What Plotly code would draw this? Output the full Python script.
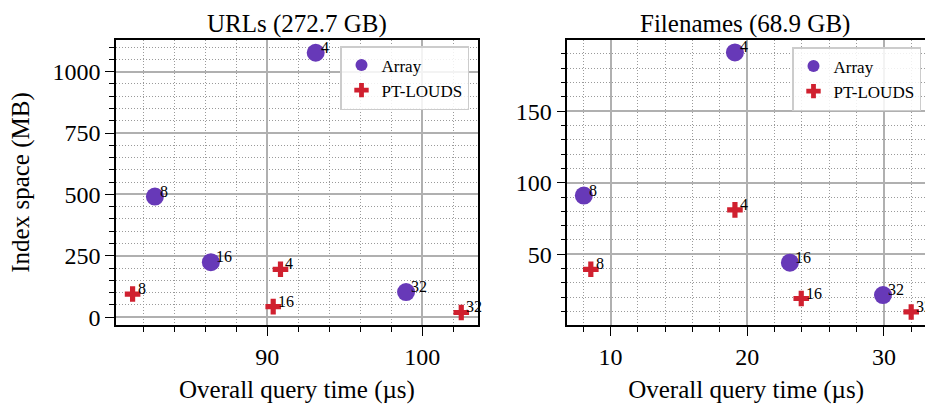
import plotly.graph_objects as go

# ---- data ----
url_array_x = [93.13, 82.76, 86.37, 98.96]
url_array_y = [1077, 491, 224, 102]
url_array_lbl = ["4", "8", "16", "32"]

url_pt_x = [90.86, 81.32, 90.39, 102.52]
url_pt_y = [195, 94, 43, 19]
url_pt_lbl = ["4", "8", "16", "32"]

fn_array_x = [19.1, 8.05, 23.12, 29.93]
fn_array_y = [191, 91, 44.1, 21.5]
fn_array_lbl = ["4", "8", "16", "32"]

fn_pt_x = [19.1, 8.56, 23.95, 31.99]
fn_pt_y = [81, 39.5, 19.1, 9.7]
fn_pt_lbl = ["4", "8", "16", "32"]

titles = ["URLs (272.7 GB)", "Filenames (68.9 GB)"]
series_names = ["Array", "PT-LOUDS"]

PURPLE = "#6739b8"
RED = "#d0202f"
FONT = "Liberation Serif"

fig = go.Figure()

def add_series(xs, ys, name, xa, ya, legend, color, symbol, size):
    fig.add_trace(go.Scatter(
        x=xs, y=ys, mode="markers", name=name, xaxis=xa, yaxis=ya, legend=legend,
        marker=dict(color=color, symbol=symbol, size=size, line=dict(width=0)),
    ))

add_series(url_array_x, url_array_y, series_names[0], "x", "y", "legend", PURPLE, "circle", 18)
add_series(url_pt_x, url_pt_y, series_names[1], "x", "y", "legend", RED, "cross", 13)
add_series(fn_array_x, fn_array_y, series_names[0], "x2", "y2", "legend2", PURPLE, "circle", 18)
add_series(fn_pt_x, fn_pt_y, series_names[1], "x2", "y2", "legend2", RED, "cross", 13)

annotations = []
def add_labels(xs, ys, lbls, xref, yref):
    for x, y, t in zip(xs, ys, lbls):
        annotations.append(dict(
            x=x, y=y, xref=xref, yref=yref, text=t, showarrow=False,
            xanchor="left", yanchor="bottom", xshift=3, yshift=-5,
            font=dict(family=FONT, size=16, color="black"),
        ))

add_labels(url_array_x, url_array_y, url_array_lbl, "x", "y")
add_labels(url_pt_x, url_pt_y, url_pt_lbl, "x", "y")
add_labels(fn_array_x, fn_array_y, fn_array_lbl, "x2", "y2")
add_labels(fn_pt_x, fn_pt_y, fn_pt_lbl, "x2", "y2")

# subplot titles
annotations.append(dict(x=0.5, y=1.0, xref="x domain", yref="paper", yshift=0,
                        text=titles[0], showarrow=False, yanchor="bottom",
                        font=dict(family=FONT, size=25, color="black")))
annotations.append(dict(x=(745 - 567.3) / (925 - 567.3), y=1.0, xref="x2 domain", yref="paper", yshift=0,
                        text=titles[1], showarrow=False, yanchor="bottom",
                        font=dict(family=FONT, size=25, color="black")))

fig.update_layout(annotations=annotations)

def axis_style(rng, dtick, mdtick, title=None, domain=None, mirror=True, anchor=None, standoff=8):
    d = dict(
        range=rng, dtick=dtick, tick0=0,
        showline=True, linecolor="black", linewidth=1.5, mirror=mirror,
        ticks="outside", ticklen=9, tickwidth=1.3, tickcolor="black",
        showgrid=True, gridcolor="#b0b0b0", gridwidth=1.5,
        zeroline=False,
        tickfont=dict(family=FONT, size=24, color="black"),
        minor=dict(dtick=mdtick, tick0=0, ticks="outside", ticklen=5, tickwidth=1,
                   tickcolor="black", showgrid=True, gridcolor="#9a9a9a",
                   griddash="1px,2px", gridwidth=1),
    )
    if title:
        d["title"] = dict(text=title, font=dict(family=FONT, size=25, color="black"), standoff=standoff)
    if domain:
        d["domain"] = domain
    if anchor:
        d["anchor"] = anchor
    return d

W, H = 925, 407
fig.update_layout(
    width=W, height=H,
    margin=dict(l=0, r=0, t=40, b=82),
    paper_bgcolor="white", plot_bgcolor="white",
    font=dict(family=FONT, color="black"),
    xaxis=axis_style([80.25, 103.6], 10, 2, "Overall query time (µs)",
                     domain=[116 / W, 478 / W], anchor="y", standoff=12),
    yaxis=axis_style([-32, 1129], 250, 50, "Index space (MB)", anchor="x", standoff=16),
    xaxis2=axis_style([6.84, 33.0], 10, 2, "Overall query time (µs)",
                      domain=[567.3 / W, 1.0], anchor="y2", standoff=12),
    yaxis2=axis_style([0.6, 199.7], 50, 10, None, anchor="x2", mirror=False),
    legend=dict(x=469 / W, xanchor="right", y=1 - (46 - 40) / 285, yanchor="top",
                bgcolor="rgba(255,255,255,0.85)", bordercolor="#cccccc", borderwidth=1.5,
                font=dict(family=FONT, size=17, color="black"), itemsizing="constant",
                tracegroupgap=0),
    legend2=dict(x=921 / W, xanchor="right", y=1 - (47 - 40) / 285, yanchor="top",
                 bgcolor="rgba(255,255,255,0.85)", bordercolor="#cccccc", borderwidth=1.5,
                 font=dict(family=FONT, size=17, color="black"), itemsizing="constant",
                 tracegroupgap=0),
    showlegend=True,
)

fig.write_html("out.html", config={"displayModeBar": False},
               post_script="document.body.style.margin='0';document.body.style.overflow='hidden';")
